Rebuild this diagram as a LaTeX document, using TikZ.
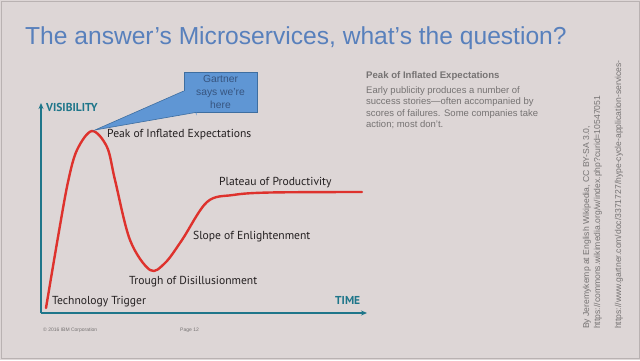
\documentclass[tikz,border=0pt]{standalone}
\usepackage{fontspec}
\setmainfont{Liberation Sans}
\newfontfamily\lblfont{PT Sans}
\usetikzlibrary{arrows.meta}
\definecolor{bg}{RGB}{221,214,214}
\definecolor{frame}{RGB}{185,178,178}
\definecolor{titleblue}{RGB}{88,128,188}
\definecolor{teal}{RGB}{30,118,138}
\definecolor{hypered}{RGB}{222,50,45}
\definecolor{lbltext}{RGB}{35,31,32}
\definecolor{greytext}{RGB}{118,115,115}
\definecolor{callfill}{RGB}{95,150,212}
\definecolor{callborder}{RGB}{62,110,160}
\definecolor{calltext}{RGB}{55,85,128}
\tikzset{
  axis/.style={draw=teal, line width=1.4pt, -{Stealth[length=6pt,width=5pt]}},
  axislbl/.style={text=teal, font=\lblfont\bfseries\fontsize{11.5}{12}\selectfont, inner sep=0pt},
  phase/.style={text=lbltext, font=\lblfont\fontsize{11.6}{13}\selectfont, inner sep=0pt, anchor=west},
  hype/.style={draw=hypered, line width=2.4pt, line cap=round, line join=round},
  callbox/.style={fill=callfill, draw=callborder, line width=0.6pt, minimum width=73pt, minimum height=40pt, inner sep=0pt, align=center, text=calltext, font=\fontsize{10.3}{13}\selectfont},
  sidetext/.style={text=greytext, inner sep=0pt},
  vtext/.style={text=greytext, inner sep=0pt, rotate=90, anchor=west, font=\fontsize{8.6}{9}\selectfont}
}
\begin{document}
\begin{tikzpicture}[x=1pt,y=-1pt]
\path[use as bounding box, fill=bg] (0,0) rectangle (640,360);
\draw[frame, line width=0.8pt] (1.5,1) rectangle (639.5,358);

% title
\node[anchor=base west, inner sep=0pt, text=titleblue, font=\fontsize{24.6}{28}\selectfont] (title) at (25,44) {The answer’s Microservices, what’s the question?};

% axes
\coordinate (origin) at (41,313);
\coordinate (ytop) at (41,103);
\coordinate (xend) at (367,313);
\draw[axis] (origin) -- (ytop);
\draw[axis] (origin) -- (xend);
\node[axislbl, anchor=west] (vis) at (46,107) {VISIBILITY};
\node[axislbl, anchor=west] (time) at (335,300) {TIME};

% hype curve
\draw[hype] plot[smooth, tension=0.55] coordinates {(46,308) (58,237) (68,182) (77,150) (92,131) (107,147) (115,180) (130,240) (150,270) (165,263) (182,240) (207,202) (233,195) (270,192.5) (362,192)};
\coordinate (peak) at (95,130);

% phase labels
\node[phase] (lpeak) at (107,135) {Peak of Inflated Expectations};
\node[phase] (lplat) at (219,183) {Plateau of Productivity};
\node[phase] (lslope) at (193,237) {Slope of Enlightenment};
\node[phase] (ltrough) at (129,282) {Trough of Disillusionment};
\node[phase] (ltrig) at (52,302) {Technology Trigger};

% callout
\node[callbox] (call) at (220.5,92) {Gartner\\says we’re\\here};
\fill[callfill] ([yshift=1pt]call.west) -- (peak) -- ([xshift=-24pt]call.south) -- ([xshift=-24pt,yshift=-3pt]call.south) -- ([xshift=3pt,yshift=1pt]call.west) -- cycle;
\draw[callborder, line width=0.6pt] ([yshift=1pt]call.west) -- (peak) -- ([xshift=-24pt]call.south);

% side description
\node[sidetext, anchor=west, font=\bfseries\fontsize{9.6}{11}\selectfont] (sidehead) at (366,76) {Peak of Inflated Expectations};
\node[sidetext, anchor=north west, align=left, font=\fontsize{9.5}{11.6}\selectfont] (sidebody) at (366,86) {Early publicity produces a number of\\success stories—often accompanied by\\scores of failures. Some companies take\\action; most don’t.};

% vertical credits
\node[vtext] (cred1) at (587,329) {By Jeremykemp at English Wikipedia, CC BY-SA 3.0,};
\node[vtext] (cred2) at (598,329) {https://commons.wikimedia.org/w/index.php?curid=10547051};
\node[vtext] (cred3) at (619,329) {https://www.gartner.com/doc/3371727/hype-cycle-application-services-};

% footer
\node[sidetext, anchor=west, font=\fontsize{5}{6}\selectfont] (copy) at (43,330) {© 2016 IBM Corporation};
\node[sidetext, anchor=west, font=\fontsize{5}{6}\selectfont] (page) at (180,330) {Page 12};
\end{tikzpicture}
\end{document}
